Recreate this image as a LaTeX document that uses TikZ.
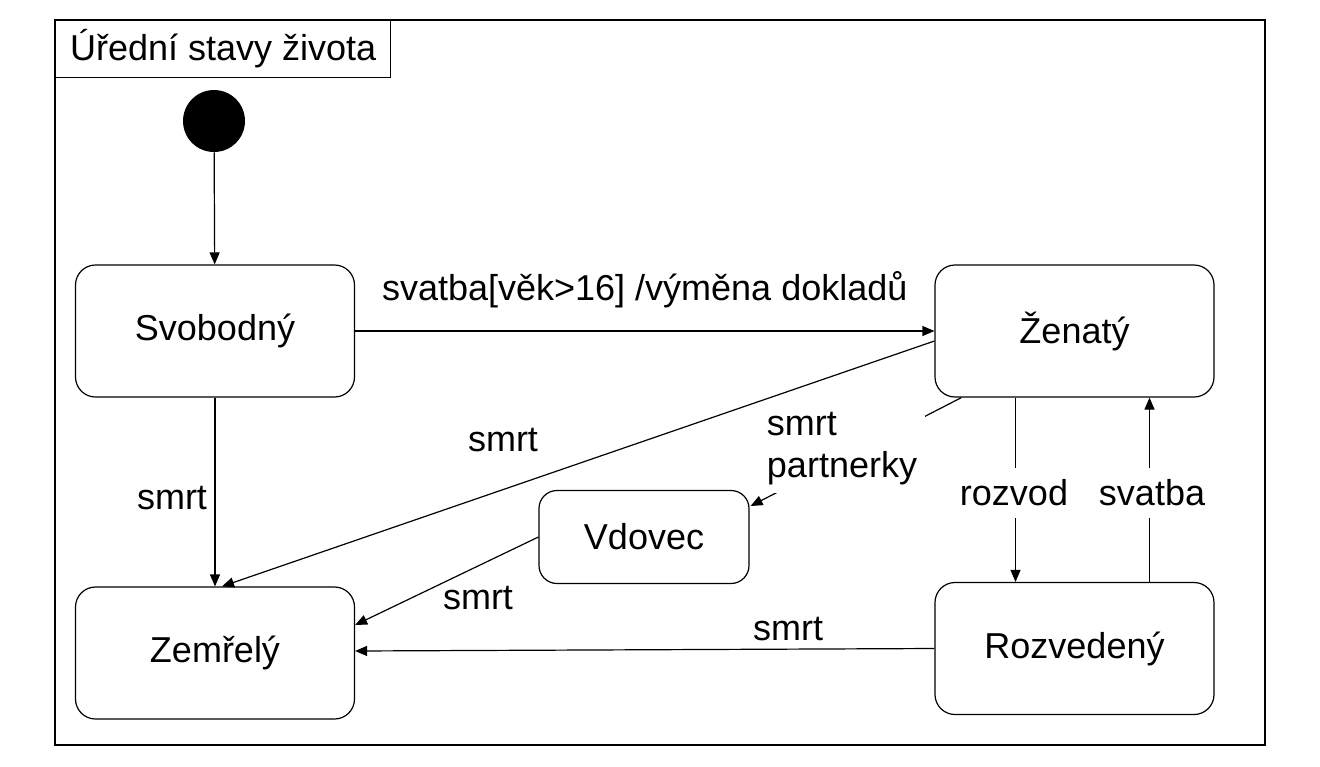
\documentclass[tikz,border=0pt]{standalone}
\usepackage{fontspec}
\setmainfont{Liberation Sans}
\usetikzlibrary{arrows.meta, calc}

\begin{document}
\begin{tikzpicture}[
    x=0.5pt, y=-0.5pt,
    font=\fontsize{18}{21}\selectfont,
    state/.style={rectangle, rounded corners=10pt, draw, line width=0.6pt, minimum width=139.5pt, minimum height=66pt},
    smallstate/.style={state, minimum width=105pt, minimum height=46.5pt, rounded corners=9pt},
    initial/.style={circle, fill=black, minimum size=31pt, inner sep=0pt},
    arrow/.style={-{Triangle[length=6pt, width=5pt]}, line width=0.6pt},
    label/.style={inner sep=1pt}
]
\useasboundingbox (0,0) rectangle (1320,766);

% FRAME
\draw[line width=0.6pt] (55,20) rectangle (1265,745);
\node[draw, line width=0.6pt, anchor=north west, minimum width=167.5pt, minimum height=28.5pt] (title) at (55,20) {Úřední stavy života};

% STATES
\node[initial] (start) at (214,121) {};
\node[state] (Svobodny) at (215,331) {Svobodný};
\node[state] (Zenaty) at (1074.5,331) {Ženatý};
\node[state] (Zemrely) at (215,653) {Zemřelý};
\node[state] (Rozvedeny) at (1074.5,648.5) {Rozvedený};
\node[smallstate] (Vdovec) at (644,537) {Vdovec};

% TRANSITIONS
\draw[arrow] (start) -- (Svobodny);
\draw[arrow] (Svobodny) -- node[above, label, pos=0.5, yshift=10pt] {svatba[věk>16] /výměna dokladů} (Zenaty);
\draw[arrow] (Svobodny) -- (Zemrely);
\node[label] (smrt1) at (172,498) {smrt};

% death from Ženatý
\draw[arrow] ($(Zenaty.west)+(0,10)$) -- ($(Zemrely.north)+(7,0)$);
\node[label] (smrt2) at (503,440) {smrt};

% partner's death, line passes under its label
\draw[arrow] ($(Zenaty.south west)+(27,0)$) -- ($(Vdovec.east)+(1,-31)$);
\node[label, fill=white, align=left, inner sep=4pt] (partner) at (842,449) {smrt\\partnerky};

\draw[arrow] (Vdovec.west) -- ($(Zemrely.east)+(0,-28)$);
\node[label] (smrt3) at (478,598) {smrt};

\draw[arrow] (Rozvedeny.west) -- ($(Zemrely.east)+(0,-2)$);
\node[label] (smrt4) at (788,629) {smrt};

% divorce and remarriage, lines pass under their labels
\draw[arrow] ($(Zenaty.south)+(-59,0)$) -- ($(Rozvedeny.north)+(-59,0)$);
\node[label, fill=white, inner sep=6pt] (rozvod) at (1014,493) {rozvod};
\draw[arrow] ($(Rozvedeny.north)+(75,0)$) -- ($(Zenaty.south)+(75,0)$);
\node[label, fill=white, inner sep=6pt] (svatba) at (1152,493) {svatba};

\end{tikzpicture}
\end{document}
